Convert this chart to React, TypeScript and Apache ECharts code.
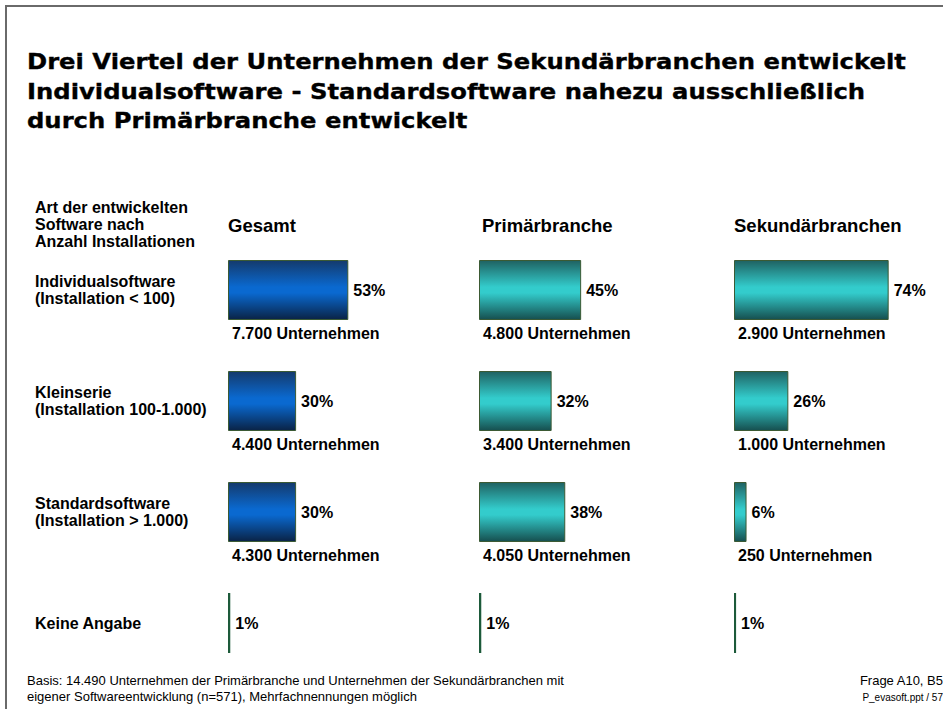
import React, { useEffect, useRef } from 'react';
import * as echarts from 'echarts';

const titleLines = [
  'Drei Viertel der Unternehmen der Sekundärbranchen entwickelt',
  'Individualsoftware - Standardsoftware nahezu ausschließlich',
  'durch Primärbranche entwickelt',
];
const rowHeading = ['Art der entwickelten', 'Software nach', 'Anzahl Installationen'];
const categories = [
  'Individualsoftware\n(Installation < 100)',
  'Kleinserie\n(Installation 100-1.000)',
  'Standardsoftware\n(Installation > 1.000)',
  'Keine Angabe',
];
const groups = ['Gesamt', 'Primärbranche', 'Sekundärbranchen'];
const gesamtPct = [53, 30, 30, 1];
const primaerPct = [45, 32, 38, 1];
const sekundaerPct = [74, 26, 6, 1];
const gesamtCompanies = ['7.700', '4.400', '4.300', ''];
const primaerCompanies = ['4.800', '3.400', '4.050', ''];
const sekundaerCompanies = ['2.900', '1.000', '250', ''];
const footerLeft = [
  'Basis: 14.490 Unternehmen der Primärbranche und Unternehmen der Sekundärbranchen mit',
  'eigener Softwareentwicklung (n=571), Mehrfachnennungen möglich',
];
const footerRight1 = 'Frage A10, B5';
const footerRight2 = 'P_evasoft.ppt / 57';

const FONT = '"Liberation Sans", Arial, sans-serif';

export default function App() {
  const ref = useRef<HTMLDivElement>(null);
  useEffect(() => {
    document.body.style.margin = '0';
    const chart = echarts.init(ref.current!, null, { renderer: 'svg' });
    const lefts = [228, 479, 734];
    const headerLefts = [228, 482, 734];
    const pcts = [gesamtPct, primaerPct, sekundaerPct];
    const comps = [gesamtCompanies, primaerCompanies, sekundaerCompanies];
    const blue = new echarts.graphic.LinearGradient(0, 0, 0, 1, [
      { offset: 0, color: '#143a6c' },
      { offset: 0.45, color: '#0a69d0' },
      { offset: 0.55, color: '#0a69d0' },
      { offset: 1, color: '#0a2346' },
    ]);
    const teal = () =>
      new echarts.graphic.LinearGradient(0, 0, 0, 1, [
        { offset: 0, color: '#1f6262' },
        { offset: 0.45, color: '#33cccc' },
        { offset: 0.55, color: '#33cccc' },
        { offset: 1, color: '#164f4f' },
      ]);
    const fills = [blue, teal(), teal()];

    const grids = lefts.map((l) => ({ left: l, top: 234.5, width: 227, height: 444 }));
    const xAxes = lefts.map((_, i) => ({
      type: 'value', gridIndex: i, min: 0, max: 100, show: false,
    }));
    const yAxes = lefts.map((_, i) => ({
      type: 'category', gridIndex: i, inverse: true, data: categories,
      axisLine: { show: false }, axisTick: { show: false }, splitLine: { show: false },
      axisLabel: i === 0 ? {
        show: true, align: 'left', margin: 193, color: '#000',
        fontFamily: FONT, fontWeight: 'bold', fontSize: 16, lineHeight: 17,
      } : { show: false },
    }));
    const series: any[] = [];
    pcts.forEach((vals, i) => {
      series.push({
        type: 'bar', xAxisIndex: i, yAxisIndex: i, barWidth: 60,
        data: vals.map((v, k) => ({
          value: v,
          itemStyle: k === 3
            ? { color: '#1d5a3a', borderWidth: 0 }
            : { color: fills[i], borderColor: '#3b5a34', borderWidth: 1 },
        })),
        label: {
          show: true, position: 'right', distance: 5, formatter: '{c}%',
          color: '#000', fontFamily: FONT, fontWeight: 'bold', fontSize: 16,
        },
      });
      series.push({
        type: 'bar', xAxisIndex: i, yAxisIndex: i, barWidth: 60, barGap: '-100%',
        data: vals, itemStyle: { color: 'rgba(0,0,0,0)' }, silent: true,
        label: {
          show: true, position: [4, 73], align: 'left', verticalAlign: 'middle',
          formatter: (p: any) => (comps[i][p.dataIndex] ? comps[i][p.dataIndex] + ' Unternehmen' : ''),
          color: '#000', fontFamily: FONT, fontWeight: 'bold', fontSize: 16,
        },
      });
    });

    const graphic: any[] = [
      { type: 'rect', shape: { x: 6, y: 6, width: 1000, height: 800 }, style: { fill: 'none', stroke: '#6a6a6a', lineWidth: 2 } },
      ...titleLines.map((t, k) => ({
        type: 'text', x: 27, y: 61 + k * 29.5, scaleX: 1.104,
        style: {
          text: t, fill: '#000', stroke: '#000', lineWidth: 0.35,
          font: `bold 22px "DejaVu Sans", sans-serif`, textVerticalAlign: 'middle',
        },
      })),
      ...rowHeading.map((t, k) => ({
        type: 'text', x: 35, y: 207 + k * 17,
        style: { text: t, fill: '#000', font: `bold 16px ${FONT}`, textVerticalAlign: 'middle' },
      })),
      ...groups.map((g, k) => ({
        type: 'text', x: headerLefts[k], y: 225,
        style: { text: g, fill: '#000', font: `bold 18.5px ${FONT}`, textVerticalAlign: 'middle' },
      })),
      ...footerLeft.map((t, k) => ({
        type: 'text', x: 27, y: 680 + k * 16,
        style: { text: t, fill: '#000', font: `13px ${FONT}`, textVerticalAlign: 'middle' },
      })),
      {
        type: 'text', x: 943, y: 680,
        style: { text: footerRight1, fill: '#000', font: `13px ${FONT}`, textAlign: 'right', textVerticalAlign: 'middle' },
      },
      {
        type: 'text', x: 943, y: 697,
        style: { text: footerRight2, fill: '#000', font: `10px "Liberation Sans Narrow", ${FONT}`, textAlign: 'right', textVerticalAlign: 'middle' },
      },
    ];

    chart.setOption({
      animation: false,
      backgroundColor: '#fff',
      grid: grids,
      xAxis: xAxes,
      yAxis: yAxes,
      series,
      graphic,
    });
    return () => chart.dispose();
  }, []);
  return <div ref={ref} style={{ width: 943, height: 709 }} />;
}
